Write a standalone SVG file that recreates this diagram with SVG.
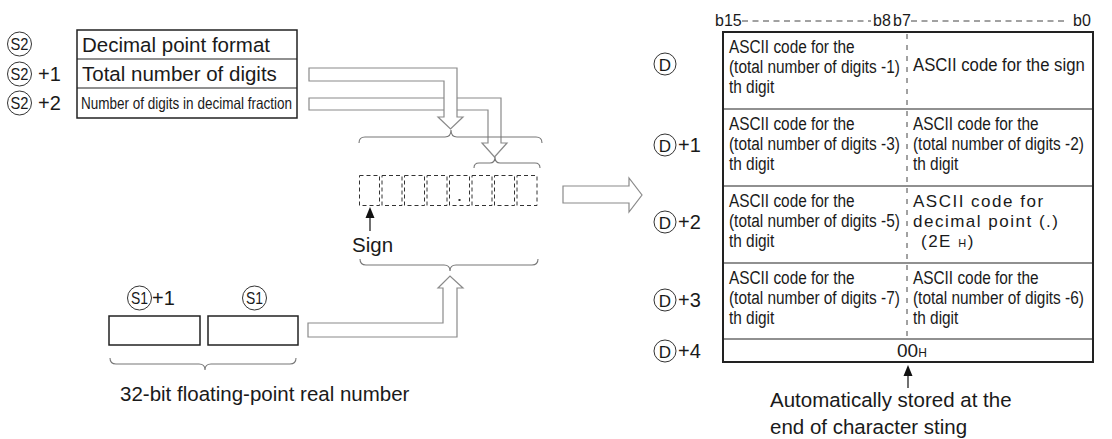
<svg xmlns="http://www.w3.org/2000/svg" width="1112" height="439" viewBox="0 0 1112 439">
<style>
text{font-family:"Liberation Sans",Arial,sans-serif;fill:#1a1a1a}
.big{font-size:20.5px}
.cell{font-size:19px}
.wide{font-size:17px;letter-spacing:1.5px}
.bit{font-size:16px}
.lbl{font-size:20px}
.cir{fill:none;stroke:#333;stroke-width:1}
.box{fill:#fff;stroke:#222;stroke-width:1.5}
.dbox{fill:none;stroke:#333;stroke-width:1;stroke-dasharray:4 3}
.hol{fill:#fff;stroke:#8a8a8a;stroke-width:1.2}
.brace{fill:none;stroke:#777;stroke-width:1.1}
.thin{stroke:#222;stroke-width:1.2}
.dash{stroke:#444;stroke-width:1;stroke-dasharray:6 4.5}
.vdash{stroke:#444;stroke-width:1;stroke-dasharray:5 6}
</style>

<!-- left source table S2 -->
<g id="s2-table">
  <rect class="box" x="77" y="30" width="220" height="88"/>
  <line class="thin" x1="77" y1="59" x2="297" y2="59"/>
  <line class="thin" x1="77" y1="88" x2="297" y2="88"/>
  <text class="big" x="82" y="52">Decimal point format</text>
  <text class="big" x="82" y="81">Total number of digits</text>
  <text x="81" y="109" font-size="16.5" textLength="211" lengthAdjust="spacingAndGlyphs">Number of digits in decimal fraction</text>
</g>
<g id="s2-labels">
  <circle class="cir" cx="19.5" cy="44" r="12"/>
  <text x="19.5" y="50" font-size="17" text-anchor="middle" textLength="18" lengthAdjust="spacingAndGlyphs">S2</text>
  <circle class="cir" cx="19.5" cy="74" r="12"/>
  <text x="19.5" y="80" font-size="17" text-anchor="middle" textLength="18" lengthAdjust="spacingAndGlyphs">S2</text>
  <text class="lbl" x="38" y="81">+1</text>
  <circle class="cir" cx="19.5" cy="103" r="12"/>
  <text x="19.5" y="109" font-size="17" text-anchor="middle" textLength="18" lengthAdjust="spacingAndGlyphs">S2</text>
  <text class="lbl" x="38" y="110">+2</text>
</g>

<!-- digit buffer -->
<g id="digit-buffer">
  <rect class="dbox" x="359.5" y="175.5" width="20" height="30"/>
  <rect class="dbox" x="382" y="175.5" width="20" height="30"/>
  <rect class="dbox" x="404.5" y="175.5" width="20" height="30"/>
  <rect class="dbox" x="427" y="175.5" width="20" height="30"/>
  <rect class="dbox" x="449.5" y="175.5" width="20" height="30"/>
  <rect class="dbox" x="472" y="175.5" width="20" height="30"/>
  <rect class="dbox" x="494.5" y="175.5" width="20" height="30"/>
  <rect class="dbox" x="517" y="175.5" width="20" height="30"/>
  <rect x="458.5" y="199" width="2" height="2" fill="#333"/>
</g>
<g id="sign-label">
  <text class="big" x="352" y="252">Sign</text>
</g>

<!-- S1 source -->
<g id="s1-boxes">
  <rect class="box" x="109" y="316" width="91" height="29"/>
  <rect class="box" x="208" y="316" width="90" height="29"/>
  <circle class="cir" cx="139.5" cy="298" r="12"/>
  <text x="139.5" y="304" font-size="17" text-anchor="middle" textLength="17" lengthAdjust="spacingAndGlyphs">S1</text>
  <text class="lbl" x="152" y="305">+1</text>
  <circle class="cir" cx="254.5" cy="298" r="12"/>
  <text x="254.5" y="304" font-size="17" text-anchor="middle" textLength="17" lengthAdjust="spacingAndGlyphs">S1</text>
  <text class="big" x="120" y="401">32-bit floating-point real number</text>
</g>

<!-- connectors -->
<g id="connectors">
  <path class="hol" d="M309,98 L501,98 L501,143 L507,143 L494.5,157 L482,143 L488,143 L488,110 L309,110 Z"/>
  <path class="hol" d="M309,68 L457,68 L457,117 L463,117 L450.5,129 L438,117 L444,117 L444,81 L309,81 Z"/>
  <path class="brace" d="M359,143 Q359,137 365,137 L445,137 Q451,137 451,130 Q451,137 457,137 L536,137 Q542,137 542,143"/>
  <path class="brace" d="M474,168 Q474,163 479,163 L490,163 Q495,163 495,157 Q495,163 500,163 L535,163 Q540,163 540,168"/>
  <path class="brace" d="M360,259 Q360,265 366,265 L444,265 Q450,265 450,271 Q450,265 456,265 L532,265 Q538,265 538,259"/>
  <path class="brace" d="M110,358 Q110,364 116,364 L199,364 Q205,364 205,370 Q205,364 211,364 L290,364 Q296,364 296,358"/>
  <path class="hol" d="M308,323 L443,323 L443,288 L438,288 L450,276 L463,288 L457,288 L457,337 L308,337 Z"/>
  <path class="hol" d="M563,186 L629,186 L629,178 L642,195 L629,212 L629,203 L563,203 Z"/>
  <line x1="370" y1="231" x2="370" y2="216" stroke="#111" stroke-width="1.2"/>
  <path d="M370,207 L365.5,218 L374.5,218 Z" fill="#111"/>
  <line x1="908" y1="388" x2="908" y2="374" stroke="#111" stroke-width="1.2"/>
  <path d="M908,365 L903.5,376 L912.5,376 Z" fill="#111"/>
</g>

<!-- bit header -->
<g id="bit-header">
  <text class="bit" x="715" y="26">b15</text>
  <line class="dash" x1="742" y1="21" x2="871" y2="21"/>
  <text class="bit" x="873" y="26">b8</text>
  <text class="bit" x="893" y="26">b7</text>
  <line class="dash" x1="911" y1="21" x2="1068" y2="21"/>
  <text class="bit" x="1073" y="26">b0</text>
</g>

<!-- destination table -->
<g id="d-table">
  <rect x="723" y="32" width="370" height="330" fill="#fff" stroke="#222" stroke-width="2"/>
  <line class="thin" x1="723" y1="109" x2="1093" y2="109"/>
  <line class="thin" x1="723" y1="186" x2="1093" y2="186"/>
  <line class="thin" x1="723" y1="263" x2="1093" y2="263"/>
  <line class="thin" x1="723" y1="339" x2="1093" y2="339"/>
  <line class="vdash" x1="907" y1="34" x2="907" y2="339"/>
</g>
<g id="d-left-cells" transform="translate(729,0) scale(0.81,1)">
  <text class="cell" x="0" y="53">ASCII code for the</text>
  <text class="cell" x="0" y="73">(total number of digits -1)</text>
  <text class="cell" x="0" y="93">th digit</text>
  <text class="cell" x="0" y="130">ASCII code for the</text>
  <text class="cell" x="0" y="150">(total number of digits -3)</text>
  <text class="cell" x="0" y="170">th digit</text>
  <text class="cell" x="0" y="207">ASCII code for the</text>
  <text class="cell" x="0" y="227">(total number of digits -5)</text>
  <text class="cell" x="0" y="247">th digit</text>
  <text class="cell" x="0" y="284">ASCII code for the</text>
  <text class="cell" x="0" y="304">(total number of digits -7)</text>
  <text class="cell" x="0" y="324">th digit</text>
</g>
<g id="d-right-cells" transform="translate(913,0) scale(0.81,1)">
  <text class="cell" x="0" y="71" textLength="212" lengthAdjust="spacingAndGlyphs">ASCII code for the sign</text>
  <text class="cell" x="0" y="130">ASCII code for the</text>
  <text class="cell" x="0" y="150">(total number of digits -2)</text>
  <text class="cell" x="0" y="170">th digit</text>
  <text class="cell" x="0" y="284">ASCII code for the</text>
  <text class="cell" x="0" y="304">(total number of digits -6)</text>
  <text class="cell" x="0" y="324">th digit</text>
</g>
<g id="d-decimal-cell">
  <text class="wide" x="913" y="207">ASCII code for</text>
  <text class="wide" x="913" y="227">decimal point (.)</text>
  <text class="wide" x="921" y="247">(2E <tspan font-size="11">H</tspan>)</text>
</g>
<g id="d-terminator">
  <text x="897" y="357" font-size="19">00<tspan font-size="12">H</tspan></text>
</g>
<g id="d-labels">
  <circle class="cir" cx="665" cy="64" r="11"/>
  <text x="665" y="70.5" font-size="17" text-anchor="middle">D</text>
  <circle class="cir" cx="665" cy="145" r="11"/>
  <text x="665" y="151.5" font-size="17" text-anchor="middle">D</text>
  <text class="lbl" x="678" y="152">+1</text>
  <circle class="cir" cx="665" cy="222" r="11"/>
  <text x="665" y="228.5" font-size="17" text-anchor="middle">D</text>
  <text class="lbl" x="678" y="229">+2</text>
  <circle class="cir" cx="665" cy="300" r="11"/>
  <text x="665" y="306.5" font-size="17" text-anchor="middle">D</text>
  <text class="lbl" x="678" y="307">+3</text>
  <circle class="cir" cx="665" cy="351" r="11"/>
  <text x="665" y="357.5" font-size="17" text-anchor="middle">D</text>
  <text class="lbl" x="678" y="358">+4</text>
</g>
<g id="note">
  <text class="big" x="770" y="407">Automatically stored at the</text>
  <text class="big" x="770" y="434">end of character sting</text>
</g>
</svg>
